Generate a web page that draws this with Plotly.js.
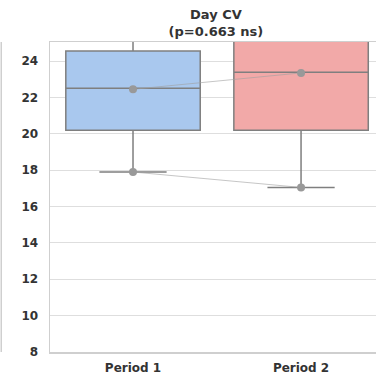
<!DOCTYPE html>
<html>
<head>
<meta charset="utf-8">
<script src="https://cdn.plot.ly/plotly-3.0.1.min.js"></script>
<style>html,body{margin:0;padding:0;overflow:hidden;background:#fff}</style>
</head>
<body>
<div id="chart" style="width:376px;height:375px"></div>
<script>
const periods = ['Period 1', 'Period 2'];
const q1 = [20.2, 20.2];
const medians = [22.5, 23.38];
const q3 = [24.55, 25.6];
const lowerWhisker = [17.9, 17.05];
const upperWhisker = [26.5, 27.0];
const boxColors = ['#a9c8ee', '#f2a9a8'];
const subjectA = [22.45, 23.35];
const subjectB = [17.9, 17.05];
const yTicks = [8, 10, 12, 14, 16, 18, 20, 22, 24];

const traces = [];
periods.forEach((p, i) => {
  traces.push({
    type: 'box', x: [p], q1: [q1[i]], median: [medians[i]], q3: [q3[i]],
    lowerfence: [lowerWhisker[i]], upperfence: [upperWhisker[i]],
    fillcolor: boxColors[i], line: {color: '#7f7f7f', width: 1.5},
    width: 0.8, whiskerwidth: 0.5, boxpoints: false, showlegend: false, hoverinfo: 'skip'
  });
});
[subjectA, subjectB].forEach(s => {
  traces.push({
    type: 'scatter', mode: 'lines+markers', x: periods, y: s,
    line: {color: 'rgba(160,160,160,0.6)', width: 1},
    marker: {color: '#999999', size: 8}, showlegend: false, hoverinfo: 'skip'
  });
});

const font = {family: 'DejaVu Sans, sans-serif', size: 12, color: '#333333', weight: 'bold'};
const layout = {
  width: 376, height: 375,
  margin: {l: 50, r: 0, t: 42, b: 23},
  paper_bgcolor: '#ffffff', plot_bgcolor: '#ffffff',
  boxmode: 'overlay',
  font: font,
  title: {
    text: '<b>Day CV<br>(p=0.663 ns)</b>',
    font: {family: 'DejaVu Sans, sans-serif', size: 13, color: '#333333'},
    x: 0.509, xref: 'paper', xanchor: 'center',
    y: 0.949, yref: 'container', yanchor: 'top'
  },
  xaxis: {
    type: 'category', range: [-0.494, 1.446],
    showgrid: false, zeroline: false,
    showline: true, mirror: true, linecolor: '#cfcfcf', linewidth: 1.5,
    ticks: '', ticklabelstandoff: 4,
    tickfont: font
  },
  yaxis: {
    range: [8, 25.05], tickvals: yTicks, ticktext: yTicks.map(String),
    showgrid: true, gridcolor: '#dedede', gridwidth: 1,
    zeroline: false, showline: true, linecolor: '#cfcfcf', linewidth: 1.5,
    ticks: '', ticklabelstandoff: 8,
    tickfont: font
  },
  shapes: [{
    type: 'line', xref: 'paper', yref: 'paper',
    x0: -0.1495, x1: -0.1495, y0: 0, y1: 1,
    line: {color: '#cfcfcf', width: 1.5}
  }]
};
Plotly.newPlot('chart', traces, layout, {displayModeBar: false, staticPlot: true});
</script>
</body>
</html>
